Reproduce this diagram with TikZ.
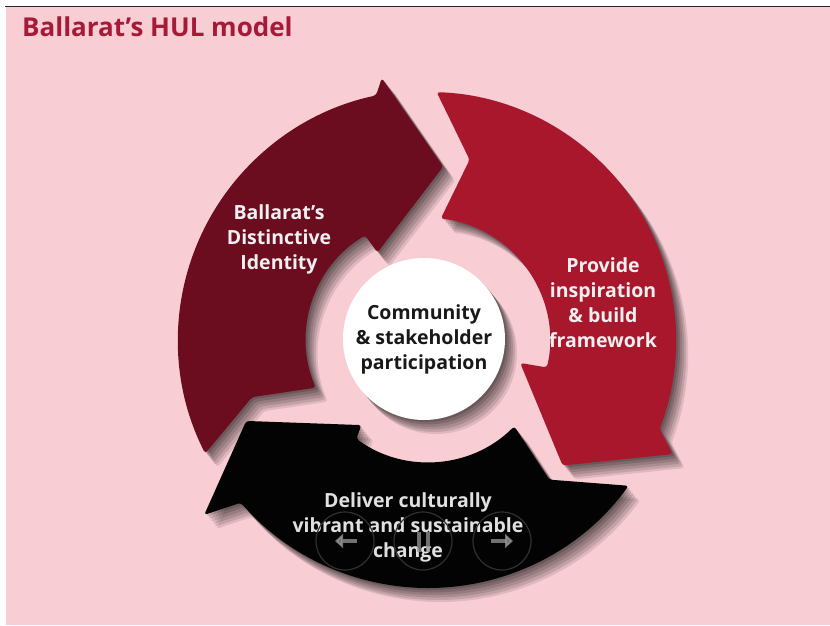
\documentclass[tikz,border=0pt]{standalone}
\usepackage{fontspec}
\setsansfont{Open Sans}
\usepackage{tikz}
\usetikzlibrary{shadows, arrows.meta}
\definecolor{slidepink}{RGB}{248, 205, 212}
\definecolor{titlered}{RGB}{166, 26, 56}
\definecolor{hulmaroon}{RGB}{107, 13, 31}
\definecolor{hulred}{RGB}{168, 23, 43}
\definecolor{hulblack}{RGB}{3, 3, 3}
\definecolor{navgray}{RGB}{150, 150, 150}
\definecolor{navring}{RGB}{48, 48, 48}
\tikzstyle{softshadow} = [drop shadow={shadow xshift=12pt, shadow yshift=-14pt, opacity=.1, fill=black}, drop shadow={shadow xshift=10pt, shadow yshift=-12pt, opacity=.12, fill=black}, drop shadow={shadow xshift=8pt, shadow yshift=-9.5pt, opacity=.12, fill=black}, drop shadow={shadow xshift=6pt, shadow yshift=-7pt, opacity=.12, fill=black}, drop shadow={shadow xshift=4pt, shadow yshift=-4.5pt, opacity=.14, fill=black}, drop shadow={shadow xshift=2pt, shadow yshift=-2pt, opacity=.16, fill=black}]
\tikzstyle{cyclearrow} = [rounded corners=3pt, softshadow]
\tikzstyle{arrowtext} = [align=center, text=white!94!black, font=\sffamily\bfseries\fontsize{19.5}{25}\selectfont]
\tikzstyle{hub} = [circle, fill=white, minimum size=162pt, inner sep=0pt, align=center, text=black!90, font=\sffamily\bfseries\fontsize{19.5}{25}\selectfont, softshadow]
\tikzstyle{navcircle} = [draw=navring, line width=1.2pt]
\tikzstyle{navglyph} = [navgray, opacity=.75]

\begin{document}
\begin{tikzpicture}[x=1pt, y=1pt]
    % Slide background
    \useasboundingbox (0,0) rectangle (830,625);
    \fill[white] (0,0) rectangle (830,625);
    \fill[slidepink] (6,0) rectangle (830,618);
    \draw[black!85, line width=1.5pt] (5,618.5) -- (830,618.5);

    % Title
    \node[anchor=base west, inner sep=0pt, text=titlered, font=\sffamily\bfseries\fontsize{26}{30}\selectfont] (title) at (22,588) {Ballarat’s HUL model};

    % Cycle arrows (centre of the ring at 428,285)
    \begin{scope}[shift={(428,285)}]
        \fill[cyclearrow, hulblack] (-36:248) arc[start angle=-36, end angle=-139, radius=248] -- (-142:284) -- (-156:199) -- (-128:108) -- (-126:122) arc[start angle=-126, end angle=-45, radius=122] -- (-49:185) -- cycle;
        \fill[cyclearrow, hulred] (88:248) arc[start angle=88, end angle=-21, radius=248] -- (-25:270) -- (-43:184) -- (-14:95) -- (-13:122) arc[start angle=-13, end angle=84, radius=122] -- (77:185) -- cycle;
        \fill[cyclearrow, hulmaroon] (207:250) arc[start angle=207, end angle=102, radius=250] -- (100:266) -- (85:174) -- (120:101) -- (121:122) arc[start angle=121, end angle=203, radius=122] -- (198:185) -- cycle;
    \end{scope}

    % Central node
    \node[hub] (hub) at (424,286) {Community\\\& stakeholder\\participation};

    % Arrow labels
    \node[arrowtext] (identity) at (279,386) {Ballarat’s\\Distinctive\\Identity};
    \node[arrowtext] (framework) at (603,322) {Provide\\inspiration\\\& build\\framework};
    \node[arrowtext, text=white!88!black] (deliver) at (408,98) {Deliver culturally\\vibrant and sustainable\\change};

    % Slideshow controls
    \foreach \nx in {345,423,502}
        \draw[navcircle] (\nx,84) circle (29);
    \draw[navglyph, line width=3.5pt, -{Triangle[length=8pt, width=14pt]}] (357,84) -- (335,84);
    \fill[navglyph] (417,73) rectangle (421,93);
    \fill[navglyph] (426,73) rectangle (430,93);
    \draw[navglyph, line width=3.5pt, -{Triangle[length=8pt, width=14pt]}] (491,84) -- (513,84);
\end{tikzpicture}
\end{document}
